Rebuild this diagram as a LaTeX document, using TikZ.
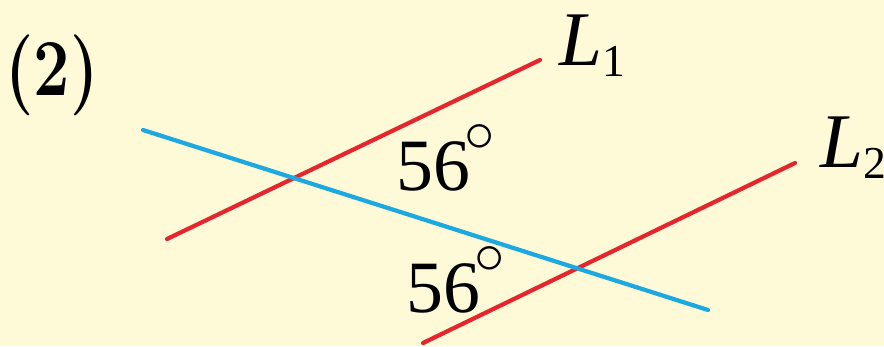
\documentclass[tikz,border=0pt]{standalone}
\usepackage{fontspec}
\setmainfont{Liberation Serif}
\newfontfamily\lmfont{Latin Modern Roman}
\usetikzlibrary{positioning, calc}

\definecolor{paper}{RGB}{254,249,215}
\definecolor{linered}{RGB}{228,38,45}
\definecolor{lineblue}{RGB}{28,168,224}

\newcommand{\linelabel}[1]{\textit{L}\raisebox{-0.11cm}{\fontsize{13}{13}\selectfont #1}}
\newcommand{\degsign}{\kern-0.05cm\raisebox{0.39cm}{\fontsize{16}{16}\selectfont$\circ$}}

\begin{document}
\begin{tikzpicture}[
    line width=1.2pt,
    parallel/.style={
        draw=linered,
        line cap=round
    },
    transversal/.style={
        draw=lineblue,
        line cap=round
    },
    angletext/.style={
        anchor=base west,
        inner sep=0pt,
        font=\fontsize{21}{21}\selectfont
    },
    linename/.style={
        anchor=base west,
        inner sep=0pt,
        font=\fontsize{22}{22}\selectfont
    }
]

    % Background
    \useasboundingbox (0,0) rectangle (8.84,3.46);
    \fill[paper] (0,0) rectangle (8.84,3.46);

    % Part number
    \node[font=\lmfont\bfseries\fontsize{23}{23}\selectfont] (part) at (0.52,2.71)
        {\scalebox{0.8}[1]{(2)}};

    % End points
    \coordinate (t1) at (1.43,2.16);
    \coordinate (t2) at (7.08,0.36);
    \coordinate (a1) at (1.67,1.07);
    \coordinate (a2) at (5.40,2.86);
    \coordinate (b1) at (4.23,0.03);
    \coordinate (b2) at (7.95,1.83);

    % Lines
    \draw[parallel] (a1) -- (a2);
    \draw[parallel] (b1) -- (b2);
    \draw[transversal] (t1) -- (t2);

    % Line names
    \node[linename] (l1) at (5.57,2.81) {\linelabel{1}};
    \node[linename] (l2) at (8.18,1.79) {\linelabel{2}};

    % Angles
    \node[angletext] (ang1) at (3.94,1.56) {56\degsign};
    \node[angletext] (ang2) at (4.04,0.34) {56\degsign};

\end{tikzpicture}
\end{document}
